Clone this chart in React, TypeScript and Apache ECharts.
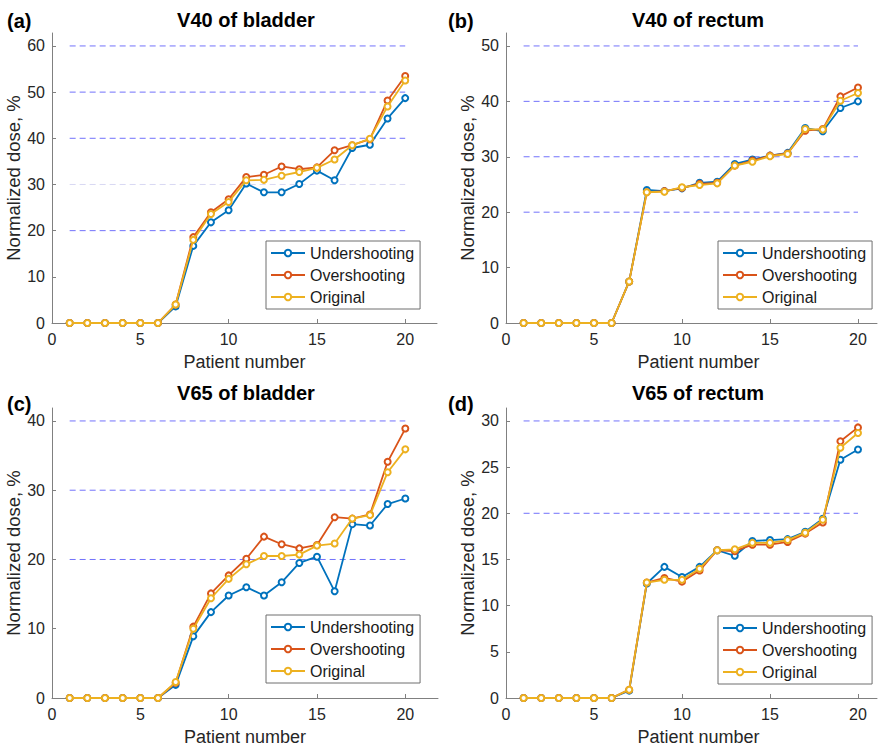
import React, { useEffect, useRef } from "react";
import * as echarts from "echarts";

// ---------- data ----------
const patients = [1, 2, 3, 4, 5, 6, 7, 8, 9, 10, 11, 12, 13, 14, 15, 16, 17, 18, 19, 20];

const bladderV40Under = [0, 0, 0, 0, 0, 0, 3.6, 16.7, 21.8, 24.4, 30.2, 28.3, 28.3, 30.1, 33.0, 30.9, 37.9, 38.6, 44.3, 48.7];
const bladderV40Over = [0, 0, 0, 0, 0, 0, 4.0, 18.6, 24.0, 26.8, 31.6, 32.1, 33.9, 33.3, 33.7, 37.4, 38.5, 39.8, 48.2, 53.5];
const bladderV40Orig = [0, 0, 0, 0, 0, 0, 4.0, 18.0, 23.6, 26.2, 30.9, 31.0, 31.9, 32.7, 33.6, 35.4, 38.5, 39.9, 46.9, 52.5];

const rectumV40Under = [0, 0, 0, 0, 0, 0, 7.5, 24.0, 23.8, 24.3, 25.3, 25.5, 28.7, 29.5, 30.2, 30.7, 35.2, 34.6, 38.8, 40.0];
const rectumV40Over = [0, 0, 0, 0, 0, 0, 7.5, 23.6, 23.8, 24.4, 25.1, 25.3, 28.4, 29.3, 30.2, 30.6, 34.7, 35.0, 40.9, 42.5];
const rectumV40Orig = [0, 0, 0, 0, 0, 0, 7.5, 23.6, 23.7, 24.5, 24.9, 25.2, 28.4, 29.1, 30.1, 30.5, 35.0, 34.9, 40.1, 41.5];

const bladderV65Under = [0, 0, 0, 0, 0, 0, 1.9, 8.9, 12.4, 14.8, 16.0, 14.8, 16.7, 19.5, 20.4, 15.4, 25.1, 24.9, 28.0, 28.8];
const bladderV65Over = [0, 0, 0, 0, 0, 0, 2.2, 10.3, 15.1, 17.7, 20.1, 23.3, 22.2, 21.6, 22.1, 26.1, 25.9, 26.5, 34.1, 38.9];
const bladderV65Orig = [0, 0, 0, 0, 0, 0, 2.3, 10.0, 14.4, 17.2, 19.3, 20.5, 20.5, 20.7, 22.0, 22.3, 25.9, 26.4, 32.6, 35.9];

const rectumV65Under = [0, 0, 0, 0, 0, 0, 0.8, 12.4, 14.2, 13.1, 14.2, 16.0, 15.4, 17.0, 17.1, 17.2, 18.0, 19.4, 25.8, 26.9];
const rectumV65Over = [0, 0, 0, 0, 0, 0, 0.9, 12.5, 13.0, 12.6, 13.8, 16.0, 15.9, 16.6, 16.6, 16.9, 17.8, 19.0, 27.8, 29.3];
const rectumV65Orig = [0, 0, 0, 0, 0, 0, 0.9, 12.5, 12.8, 12.8, 14.0, 16.0, 16.1, 16.8, 16.8, 17.1, 17.9, 19.3, 27.1, 28.7];

const xTicks = [0, 5, 10, 15, 20];
const bladderV40Ticks = [0, 10, 20, 30, 40, 50, 60];
const rectumV40Ticks = [0, 10, 20, 30, 40, 50];
const bladderV65Ticks = [0, 10, 20, 30, 40];
const rectumV65Ticks = [0, 5, 10, 15, 20, 25, 30];

const bladderV40Levels = [20, 30, 40, 50, 60];
const rectumV40Levels = [20, 30, 40, 50];
const bladderV65Levels = [20, 30, 40];
const rectumV65Levels = [20, 30];

const seriesNames = ["Undershooting", "Overshooting", "Original"];
const panelTags = ["(a)", "(b)", "(c)", "(d)"];
const panelTitles = ["V40 of bladder", "V40 of rectum", "V65 of bladder", "V65 of rectum"];
const xName = "Patient number";
const yName = "Normalized dose, %";

// ---------- style / layout ----------
const FONT = "'Liberation Sans', Arial, Helvetica, sans-serif";
const colors = ["#0072BD", "#D95319", "#EDB120"];
const levelColor = "#7272fb";
const fadedLevelColor = "#d8d8f3";
const axisColor = "#808080";
const textColor = "#262626";

const panelData = [
  { values: [bladderV40Under, bladderV40Over, bladderV40Orig], ticks: bladderV40Ticks, levels: bladderV40Levels, faded: [30] },
  { values: [rectumV40Under, rectumV40Over, rectumV40Orig], ticks: rectumV40Ticks, levels: rectumV40Levels, faded: [] as number[] },
  { values: [bladderV65Under, bladderV65Over, bladderV65Orig], ticks: bladderV65Ticks, levels: bladderV65Levels, faded: [] as number[] },
  { values: [rectumV65Under, rectumV65Over, rectumV65Orig], ticks: rectumV65Ticks, levels: rectumV65Levels, faded: [] as number[] },
];

const layouts = [
  { grid: { left: 52, top: 33, width: 385, height: 290 }, xMax: 21.8, legend: { left: 266, top: 241 }, titleX: 246, titleY: 20, tagX: 7, tagY: 21, nameShift: 0 },
  { grid: { left: 506, top: 33, width: 371, height: 290 }, xMax: 21.08, legend: { left: 718, top: 241 }, titleX: 698, titleY: 20, tagX: 448, tagY: 21, nameShift: 14 },
  { grid: { left: 52, top: 408, width: 386, height: 290 }, xMax: 21.85, legend: { left: 266, top: 615 }, titleX: 246, titleY: 393, tagX: 7, tagY: 404, nameShift: 0 },
  { grid: { left: 506, top: 408, width: 371, height: 290 }, xMax: 21.08, legend: { left: 718, top: 616 }, titleX: 698, titleY: 393, tagX: 448, tagY: 404, nameShift: 14 },
];

function buildOption() {
  const grids: any[] = [];
  const xAxes: any[] = [];
  const yAxes: any[] = [];
  const series: any[] = [];
  const legends: any[] = [];
  const graphics: any[] = [];

  panelData.forEach((p, i) => {
    const L = layouts[i];
    const topTick = p.ticks[p.ticks.length - 1];
    const step = p.ticks[1] - p.ticks[0];
    grids.push({ ...L.grid });
    xAxes.push({
      type: "value",
      gridIndex: i,
      min: 0,
      max: L.xMax,
      interval: 5,
      name: xName,
      nameLocation: "middle",
      nameGap: 30,
      nameTextStyle: { fontFamily: FONT, fontSize: 18, color: textColor, padding: [0, 0, 0, L.nameShift] },
      axisLine: { show: true, onZero: false, lineStyle: { color: axisColor, width: 1 } },
      axisTick: { show: true, inside: true, length: 4, lineStyle: { color: axisColor }, customValues: xTicks },
      axisLabel: { fontFamily: FONT, fontSize: 16, color: textColor, margin: 8, customValues: xTicks },
      splitLine: { show: false },
    });
    yAxes.push({
      type: "value",
      gridIndex: i,
      min: 0,
      max: topTick * 1.0467,
      interval: step,
      name: yName,
      nameLocation: "middle",
      nameGap: 27,
      nameTextStyle: { fontFamily: FONT, fontSize: 18.5, color: textColor },
      axisLine: { show: true, onZero: false, lineStyle: { color: axisColor, width: 1 } },
      axisTick: { show: true, inside: true, length: 4, lineStyle: { color: axisColor }, customValues: p.ticks },
      axisLabel: { fontFamily: FONT, fontSize: 16, color: textColor, margin: 7, customValues: p.ticks },
      splitLine: { show: false },
    });

    // dashed reference levels, drawn first (below the data lines)
    p.levels.forEach((v) => {
      const c = p.faded.includes(v) ? fadedLevelColor : levelColor;
      series.push({
        name: `level-${i}-${v}`,
        type: "line",
        xAxisIndex: i,
        yAxisIndex: i,
        data: [
          [patients[0], v],
          [patients[patients.length - 1], v],
        ],
        symbol: "none",
        silent: true,
        color: c,
        lineStyle: { color: c, type: [6, 4], width: 1 },
        emphasis: { disabled: true },
        z: 1,
      });
    });

    p.values.forEach((vals, k) => {
      series.push({
        name: seriesNames[k],
        type: "line",
        xAxisIndex: i,
        yAxisIndex: i,
        data: patients.map((x, j) => [x, vals[j]]),
        symbol: "emptyCircle",
        symbolSize: 6,
        color: colors[k],
        itemStyle: { color: colors[k], borderWidth: 1.4 },
        lineStyle: { color: colors[k], width: 1.8 },
        z: 3 + k,
      });
    });

    legends.push({
      left: L.legend.left,
      top: L.legend.top,
      orient: "vertical",
      data: seriesNames,
      itemWidth: 34,
      itemHeight: 8,
      itemGap: 6,
      padding: [4, 6, 4, 4],
      backgroundColor: "#ffffff",
      borderColor: "#6e6e6e",
      borderWidth: 1,
      borderRadius: 0,
      selectedMode: false,
      textStyle: { fontFamily: FONT, fontSize: 16, color: "#1a1a1a", lineHeight: 16, padding: [0, 0, 0, 0] },
    });

    graphics.push({
      type: "text",
      x: L.titleX,
      y: L.titleY,
      style: { text: panelTitles[i], fontFamily: FONT, fontSize: 20, fontWeight: "bold", fill: "#000", align: "center", verticalAlign: "middle" },
    });
    graphics.push({
      type: "text",
      x: L.tagX,
      y: L.tagY,
      style: { text: panelTags[i], fontFamily: FONT, fontSize: 20, fontWeight: "bold", fill: "#000", align: "left", verticalAlign: "middle" },
    });
  });

  return {
    animation: false,
    backgroundColor: "#ffffff",
    textStyle: { fontFamily: FONT },
    grid: grids,
    xAxis: xAxes,
    yAxis: yAxes,
    legend: legends,
    series,
    graphic: graphics,
  };
}

export default function App() {
  const ref = useRef<HTMLDivElement>(null);
  useEffect(() => {
    if (!ref.current) return;
    const chart = echarts.init(ref.current, undefined, { renderer: "svg" });
    chart.setOption(buildOption() as any);
    return () => chart.dispose();
  }, []);
  return (
    <div
      ref={ref}
      style={{ position: "fixed", left: 0, top: 0, width: 882, height: 752, background: "#fff" }}
    />
  );
}
